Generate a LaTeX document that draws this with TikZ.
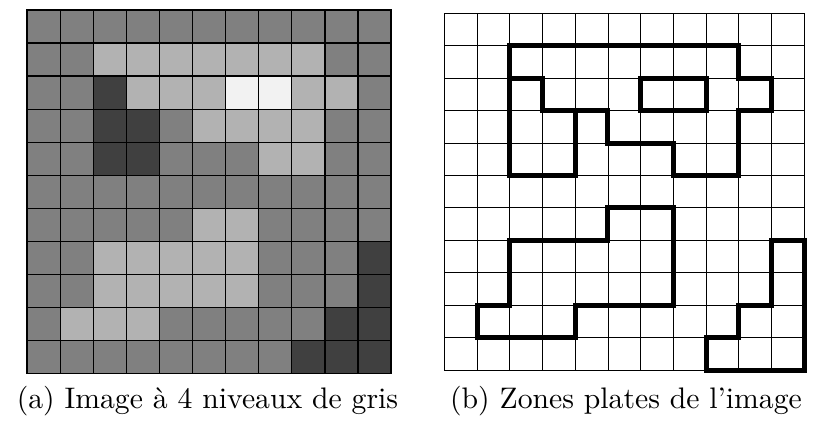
\documentclass[tikz,border=0pt]{standalone}
\usepackage{fontspec}
\newfontfamily\capfont{lmroman10-regular.otf}
\definecolor{grisMoyen}{gray}{0.50}
\definecolor{grisClair}{gray}{0.70}
\definecolor{grisFonce}{gray}{0.25}
\definecolor{grisBlanc}{gray}{0.95}
\tikzset{
  m/.style={fill=grisMoyen},
  l/.style={fill=grisClair},
  d/.style={fill=grisFonce},
  w/.style={fill=grisBlanc},
  gridline/.style={black,line width=1.2pt},
  thingrid/.style={black,line width=0.9pt},
  zone/.style={black,line width=5pt,line join=miter},
  caption/.style={font=\capfont\fontsize{29.7}{34}\selectfont,anchor=base,inner sep=0pt}
}
\begin{document}
\begin{tikzpicture}[x=1pt,y=-1pt]
\useasboundingbox (0,0) rectangle (813,422);

% grey-level image, 11 x 11 pixels
\begin{scope}[shift={(27.3,10)},x=33.07pt,y=-33.05pt]
  \foreach \rowlist [count=\r from 0] in {
    {m,m,m,m,m,m,m,m,m,m,m},
    {m,m,l,l,l,l,l,l,l,m,m},
    {m,m,d,l,l,l,w,w,l,l,m},
    {m,m,d,d,m,l,l,l,l,m,m},
    {m,m,d,d,m,m,m,l,l,m,m},
    {m,m,m,m,m,m,m,m,m,m,m},
    {m,m,m,m,m,l,l,m,m,m,m},
    {m,m,l,l,l,l,l,m,m,m,d},
    {m,m,l,l,l,l,l,m,m,m,d},
    {m,l,l,l,m,m,m,m,m,d,d},
    {m,m,m,m,m,m,m,m,d,d,d}} {
    \foreach \v [count=\c from 0] in \rowlist {
      \path[\v] (\c,\r) rectangle ++(1,1);
    }
  }
  \foreach \i in {0,...,11} {
    \draw[gridline] (\i,0) -- (\i,11);
    \draw[gridline] (0,\i) -- (11,\i);
  }
  \draw[black,line width=1.8pt] (0,0) rectangle (11,11);
\end{scope}

% flat zones of the image
\begin{scope}[shift={(444.3,13.3)},x=32.73pt,y=-32.43pt]
  \foreach \i in {0,...,11} {
    \draw[thingrid] (\i,0) -- (\i,11);
    \draw[thingrid] (0,\i) -- (11,\i);
  }
  % light zone at the top
  \draw[zone] (2,1) -- (9,1) -- (9,2) -- (10,2) -- (10,3) -- (9,3) -- (9,5)
    -- (7,5) -- (7,4) -- (5,4) -- (5,3) -- (3,3) -- (3,2) -- (2,2) -- cycle;
  % white zone
  \draw[zone] (6,2) rectangle (8,3);
  % dark zone on the left
  \draw[zone] (2,2) -- (3,2) -- (3,3) -- (4,3) -- (4,5) -- (2,5) -- cycle;
  % light zone at the bottom
  \draw[zone] (5,6) -- (7,6) -- (7,9) -- (4,9) -- (4,10) -- (1,10) -- (1,9)
    -- (2,9) -- (2,7) -- (5,7) -- cycle;
  % dark zone at the bottom right
  \draw[zone] (10,7) -- (11,7) -- (11,11) -- (8,11) -- (8,10) -- (9,10)
    -- (9,9) -- (10,9) -- cycle;
\end{scope}

\node[caption] (capA) at (207.5,408) {(a) Image à 4 niveaux de gris};
\node[caption] (capB) at (626,408) {(b) Zones plates de l’image};
\end{tikzpicture}
\end{document}
